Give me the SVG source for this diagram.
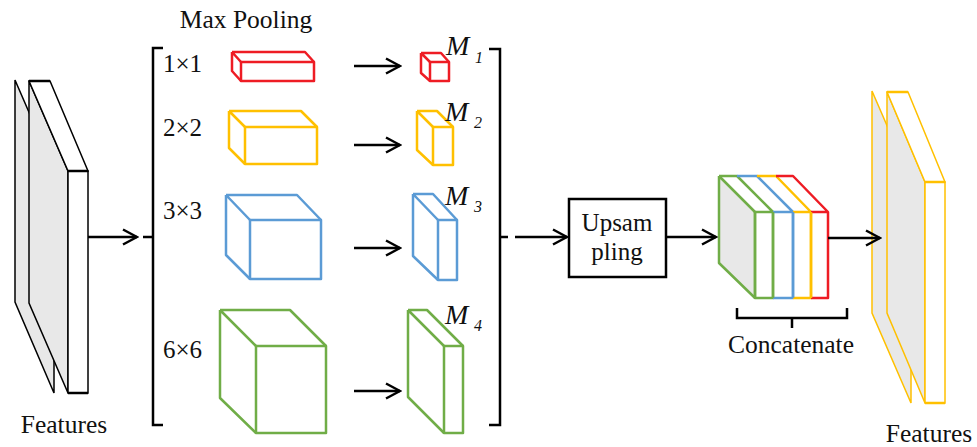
<svg xmlns="http://www.w3.org/2000/svg" width="977" height="447" viewBox="0 0 977 447">
<defs>
<marker id="arr" markerUnits="userSpaceOnUse" markerWidth="18" markerHeight="18" viewBox="0 0 18 18" refX="16" refY="9" orient="auto">
<path d="M2,1.5 L16,9 L2,16.5" fill="none" stroke="#000" stroke-width="2.5" stroke-linejoin="miter"/>
</marker>
</defs>
<style>
text{font-family:'Liberation Serif','Times New Roman',Times,'DejaVu Serif',serif}
.t{font-size:25.5px;fill:#111}
.d{font-size:25px;fill:#111}
.m{font-style:italic;font-size:28px;fill:#111}
.s{font-style:italic;font-size:16px;fill:#111}
.ln{stroke:#000;stroke-width:2.5;fill:none}
.r{stroke:#ee1c24;stroke-width:2.5;fill:none;stroke-linejoin:round}
.y{stroke:#ffc000;stroke-width:2.5;fill:none;stroke-linejoin:round}
.b{stroke:#5b9bd5;stroke-width:2.5;fill:none;stroke-linejoin:round}
.g{stroke:#70ad47;stroke-width:2.5;fill:none;stroke-linejoin:round}
.gray{fill:#e8e8e8}
.wh{fill:#fff}
</style>
<rect width="977" height="447" fill="#fff"/>

<g id="features-in">
<polygon points="15,80 54,170 54,393 15,302" class="gray" stroke="#000" stroke-width="1.5"/>
<polygon points="29,81 68,171 68,393 29,303" class="gray" stroke="#000" stroke-width="1.5"/>
<polygon points="29,81 50,81 88,171 68,171" class="wh" stroke="#000" stroke-width="1.5"/>
<line x1="29" y1="81" x2="50" y2="81" stroke="#000" stroke-width="2.5"/>
<rect x="68" y="171" width="20" height="222" class="wh" stroke="#000" stroke-width="1.5"/>
<line x1="68" y1="171" x2="88" y2="171" stroke="#000" stroke-width="2.5"/>
<line x1="68" y1="393" x2="88" y2="393" stroke="#000" stroke-width="2.5"/>
<text x="64" y="433" class="t" text-anchor="middle">Features</text>
</g>

<g id="pool-bracket">
<text x="246" y="28" class="t" text-anchor="middle">Max Pooling</text>
<polyline points="163,48 153,48 153,425 163,425" class="ln"/>
<polyline points="489,49 500,49 500,425 489,425" class="ln"/>
<text x="163" y="72" class="d">1×1</text>
<text x="163" y="136" class="d">2×2</text>
<text x="163" y="219" class="d">3×3</text>
<text x="163" y="358" class="d">6×6</text>
</g>

<g id="pool1">
<path d="M232,52 H305 L314,62 M232,52 L241,62 M232,52 V71 L241,81" class="r"/>
<rect x="241" y="62" width="73" height="19" class="r"/>
</g>
<g id="pool2">
<path d="M229,111 H301 L317,127 M229,111 L245,127 M229,111 V148 L245,164" class="y"/>
<rect x="245" y="127" width="72" height="37" class="y"/>
</g>
<g id="pool3">
<path d="M226,195 H297 L321,220 M226,195 L250,220 M226,195 V255 L250,279" class="b"/>
<rect x="250" y="220" width="71" height="59" class="b"/>
</g>
<g id="pool6">
<path d="M220,310 H290 L326,346 M220,310 L256,346 M220,310 V398 L256,433" class="g"/>
<rect x="256" y="346" width="70" height="87" class="g"/>
</g>

<g id="M1">
<path d="M421,53 H441 L449,62 M421,53 L430,62 M421,53 V73 L430,81" class="r"/>
<rect x="430" y="62" width="19" height="19" class="r"/>
<text x="446" y="55" class="m">M</text><text x="475" y="63" class="s">1</text>
</g>
<g id="M2">
<path d="M417,111 H437 L453,127 M417,111 L433,127 M417,111 V150 L433,165" class="y"/>
<rect x="433" y="127" width="20" height="38" class="y"/>
<text x="445" y="121" class="m">M</text><text x="474" y="128" class="s">2</text>
</g>
<g id="M3">
<path d="M413,194 H433 L457,220 M413,194 L438,220 M413,194 V256 L438,280" class="b"/>
<rect x="438" y="220" width="19" height="60" class="b"/>
<text x="445" y="205" class="m">M</text><text x="474" y="212" class="s">3</text>
</g>
<g id="M4">
<path d="M408,310 H427 L463,346 M408,310 L444,346 M408,310 V397 L444,433" class="g"/>
<rect x="444" y="346" width="19" height="87" class="g"/>
<text x="445" y="324" class="m">M</text><text x="474" y="331" class="s">4</text>
</g>

<g id="upsampling">
<rect x="569" y="199" width="97" height="78" fill="#fff" stroke="#000" stroke-width="2.5"/>
<text x="617" y="231" class="d" text-anchor="middle">Upsam</text>
<text x="617" y="260" class="d" text-anchor="middle">pling</text>
</g>

<g id="concat">
<polygon points="719,176 755,212 755,298 719,263" class="gray"/>
<path d="M719,176 L755,212 M719,176 V263 L755,298" class="g"/>
<path d="M719,176 H737 L773,212 M755,212 H773 V298 H755 Z" class="g"/>
<path d="M737,176 H757 L793,212 M773,212 H793 V298 H773" class="b"/>
<path d="M757,176 H776 L811,212 M793,212 H811 V298 H793" class="y"/>
<path d="M776,176 H793 L828,212 V298 H811 M811,212 H828" class="r"/>
<line x1="755" y1="212" x2="755" y2="298" stroke="#70ad47" stroke-width="2.5"/>
<line x1="773" y1="212" x2="773" y2="298" stroke="#70ad47" stroke-width="2.5"/>
<line x1="793" y1="212" x2="793" y2="298" stroke="#5b9bd5" stroke-width="2.5"/>
<line x1="811" y1="212" x2="811" y2="298" stroke="#ffc000" stroke-width="2.5"/>
<polyline points="737,308 737,318 847,318 847,308" class="ln"/>
<line x1="792" y1="318" x2="792" y2="328" class="ln"/>
<text x="791" y="353" class="t" text-anchor="middle">Concatenate</text>
</g>

<g id="features-out">
<polygon points="872,91 911,181 911,403 872,313" class="gray" stroke="#ffc000" stroke-width="1.5"/>
<polygon points="887,92 925,182 925,403 887,313" class="gray" stroke="#ffc000" stroke-width="1.5"/>
<polygon points="887,92 908,92 945,182 925,182" class="wh" stroke="#ffc000" stroke-width="1.5"/>
<line x1="887" y1="92" x2="908" y2="92" stroke="#ffc000" stroke-width="2.5"/>
<rect x="925" y="182" width="20" height="221" class="wh" stroke="#ffc000" stroke-width="1.5"/>
<line x1="925" y1="182" x2="945" y2="182" stroke="#ffc000" stroke-width="2.5"/>
<line x1="925" y1="403" x2="945" y2="403" stroke="#ffc000" stroke-width="2.5"/>
<text x="929" y="442" class="t" text-anchor="middle">Features</text>
</g>

<g id="connectors">
<line x1="88" y1="237" x2="137" y2="237" class="ln" marker-end="url(#arr)"/>
<line x1="143" y1="237" x2="153" y2="237" class="ln"/>
<line x1="354" y1="66" x2="400" y2="66" class="ln" marker-end="url(#arr)"/>
<line x1="354" y1="145" x2="400" y2="145" class="ln" marker-end="url(#arr)"/>
<line x1="354" y1="248" x2="400" y2="248" class="ln" marker-end="url(#arr)"/>
<line x1="354" y1="391" x2="400" y2="391" class="ln" marker-end="url(#arr)"/>
<line x1="500" y1="237" x2="508" y2="237" class="ln"/>
<line x1="515" y1="237" x2="567" y2="237" class="ln" marker-end="url(#arr)"/>
<line x1="666" y1="237" x2="716" y2="237" class="ln" marker-end="url(#arr)"/>
<line x1="828" y1="238" x2="880" y2="238" class="ln" marker-end="url(#arr)"/>
</g>
</svg>
